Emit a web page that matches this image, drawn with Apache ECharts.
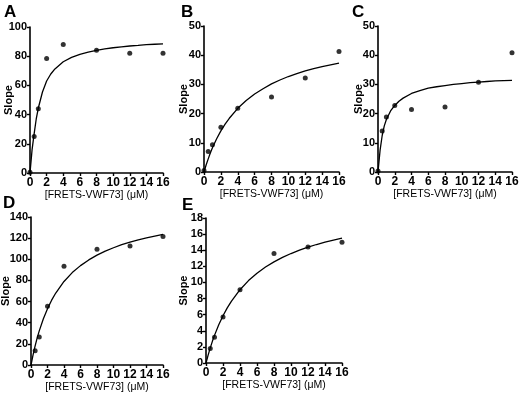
<!DOCTYPE html>
<html><head><meta charset="utf-8">
<script src="https://cdn.jsdelivr.net/npm/echarts@6/dist/echarts.min.js"></script>
<style>html,body{margin:0;padding:0;background:#fff}#c{width:520px;height:395px}</style>
</head><body><div id="c"></div>
<script>
// Measured points
const concA = [0, 0.5, 1, 2, 4, 8, 12, 16];
const slopeA = [0.5, 25, 44, 78.5, 88, 84, 82, 82];
const concB = [0, 0.5, 1, 2, 4, 8, 12, 16];
const slopeB = [0.5, 7, 9.3, 15.3, 21.8, 25.7, 32.2, 41.3];
const concC = [0, 0.5, 1, 2, 4, 8, 12, 16];
const slopeC = [0.3, 14, 18.8, 22.8, 21.4, 22.3, 30.7, 40.8];
const concD = [0.5, 1, 2, 4, 8, 12, 16];
const slopeD = [13.5, 26.5, 55.5, 93.5, 109.5, 112.5, 121.5];
const concE = [0.5, 1, 2, 4, 8, 12, 16];
const slopeE = [1.8, 3.2, 5.7, 9.1, 13.6, 14.4, 15.0];

// Fitted curves, values
const fitX = [0, 0.25, 0.5, 0.75, 1, 1.5, 2, 2.5, 3, 4, 5, 6, 7, 8, 9, 10, 11, 12, 13, 14, 15, 16];
const fitA = [0, 16, 27, 37, 44.5, 55.5, 63, 67.8, 71.3, 76.2, 79.2, 81.3, 82.8, 84.0, 85.0, 85.8, 86.4, 87.0, 87.4, 87.9, 88.2, 88.5];
const fitB = [0, 2.4, 4.5, 6.5, 8.3, 11.4, 14.1, 16.4, 18.4, 21.8, 24.5, 26.7, 28.5, 30.2, 31.5, 32.7, 33.7, 34.6, 35.4, 36.1, 36.7, 37.3];
const fitC = [0, 7.5, 12.5, 15.8, 18.0, 20.9, 22.8, 24.2, 25.3, 26.9, 27.9, 28.7, 29.2, 29.6, 30.0, 30.3, 30.6, 30.8, 31.0, 31.2, 31.3, 31.4];
const fitD = [0, 9.6, 18.1, 25.6, 32.3, 43.8, 53.3, 61.3, 68.1, 79.0, 87.4, 94.0, 99.4, 103.9, 107.7, 110.9, 113.8, 116.2, 118.4, 120.2, 121.9, 123.5];
const fitE = [0, 0.98, 1.88, 2.69, 3.43, 4.75, 5.87, 6.84, 7.69, 9.10, 10.23, 11.15, 11.91, 12.56, 13.11, 13.59, 14.01, 14.38, 14.71, 15.0, 15.26, 15.5];

const panelLetters = ['A', 'B', 'C', 'D', 'E'];
const yMax = [100, 50, 50, 140, 18];
const yStep = [20, 10, 10, 20, 2];
const xTitle = '[FRETS-VWF73] (μM)';
const yTitle = 'Slope';

const pts = [[concA, slopeA], [concB, slopeB], [concC, slopeC], [concD, slopeD], [concE, slopeE]];
const fits = [fitA, fitB, fitC, fitD, fitE];

const grids = [
  {left: 30, top: 27, width: 133, height: 146},
  {left: 204, top: 26, width: 135, height: 146},
  {left: 378, top: 26, width: 134, height: 146},
  {left: 31, top: 217, width: 132, height: 148},
  {left: 206, top: 218, width: 136, height: 145}
];
const letterPos = [[4, 4], [181, 4], [352, 4], [3, 195], [182, 197]];
const yNameGap = [15.5, 15, 13.5, 20, 16.5];
const xNameGap = [16, 16, 16, 14, 16];

const FONT = 'Liberation Sans, Arial, sans-serif';
const axisLine = {show: true, lineStyle: {color: '#000', width: 1.6}};
const axisTick = {show: true, length: 3, lineStyle: {color: '#000', width: 1.4}};

const zip = (xs, ys) => xs.map((x, i) => [x, ys[i]]);

const option = {
  animation: false,
  backgroundColor: '#fff',
  title: panelLetters.map((t, i) => ({
    text: t, left: letterPos[i][0], top: letterPos[i][1], padding: 0,
    textStyle: {fontFamily: FONT, fontWeight: 'bold', fontSize: 17, color: '#000'}
  })),
  grid: grids.map(g => Object.assign({containLabel: false, outerBoundsMode: 'none'}, g)),
  xAxis: grids.map((g, i) => ({
    type: 'value', gridIndex: i, min: 0, max: 16, interval: 2,
    axisLine, axisTick, splitLine: {show: false},
    axisLabel: {color: '#000', fontFamily: FONT, fontWeight: 'bold', fontSize: 12, margin: 4},
    name: xTitle, nameLocation: 'middle', nameGap: xNameGap[i],
    nameTextStyle: {color: '#000', fontFamily: FONT, fontSize: 10.5}
  })),
  yAxis: grids.map((g, i) => ({
    type: 'value', gridIndex: i, min: 0, max: yMax[i], interval: yStep[i],
    axisLine, axisTick, splitLine: {show: false},
    axisLabel: {color: '#000', fontFamily: FONT, fontWeight: 'bold', fontSize: 11, margin: 3},
    name: yTitle, nameLocation: 'middle', nameGap: yNameGap[i], nameMoveOverlap: false,
    nameTextStyle: {color: '#000', fontFamily: FONT, fontSize: 11, fontWeight: 'bold'}
  })),
  series: [].concat(
    fits.map((f, i) => ({
      type: 'line', xAxisIndex: i, yAxisIndex: i, data: zip(fitX, f),
      smooth: false, showSymbol: false, symbol: 'none',
      lineStyle: {color: '#000', width: 1.3}, z: 2
    })),
    pts.map((p, i) => ({
      type: 'scatter', xAxisIndex: i, yAxisIndex: i, data: zip(p[0], p[1]),
      symbol: 'circle', symbolSize: 5, itemStyle: {color: '#000'}, z: 3
    }))
  )
};
echarts.init(document.getElementById('c'), null, {renderer: 'canvas'}).setOption(option);
</script></body></html>
